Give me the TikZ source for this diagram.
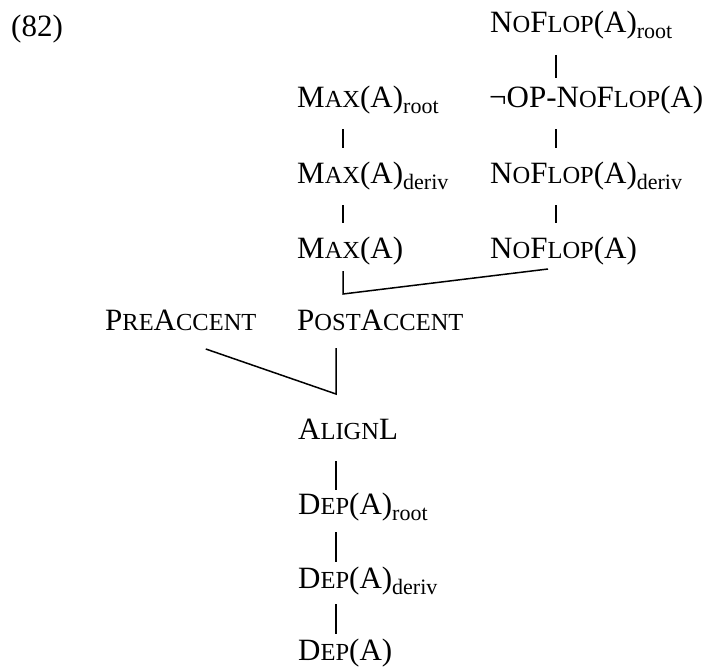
\documentclass[tikz,border=0pt]{standalone}
\usepackage{fontspec}
\setmainfont{Liberation Serif}
\usetikzlibrary{positioning}
% fake small caps and subscripts
\newcommand{\lc}[1]{{\fontsize{24.5}{29}\selectfont #1}}
\newcommand{\sub}[1]{\raisebox{-6pt}{\fontsize{22}{26}\selectfont #1}}
\newcommand{\link}[5]{%
% #1 = upper node, #2 = lower node, #3 = column, #4/#5 = gaps
\draw[con] ([yshift=-#4]#1.base -| #3) -- ([yshift=#5]#2.base -| #3);
}

\begin{document}
\begin{tikzpicture}[
    x=1pt, y=-1pt,
    con/.style={line width=1.5pt},
    every node/.style={anchor=base west, inner sep=0pt, font=\fontsize{31}{37}\selectfont}
]
\useasboundingbox (0,0) rectangle (711,666);
\coordinate (cl) at (343,0);
\coordinate (cr) at (556,0);
\coordinate (cd) at (336,0);

\node (num) at (11,37) {(82)};

\node (nfroot) at (490,33) {N\lc{O}F\lc{LOP}(A)\sub{root}};
\node (opnf) at (489,107) {¬OP-N\lc{O}F\lc{LOP}(A)};
\node (nfderiv) at (490,183) {N\lc{O}F\lc{LOP}(A)\sub{deriv}};
\node (nfa) at (490,258) {N\lc{O}F\lc{LOP}(A)};

\node (maxroot) at (297,107) {M\lc{AX}(A)\sub{root}};
\node (maxderiv) at (297,183) {M\lc{AX}(A)\sub{deriv}};
\node (maxa) at (297,258) {M\lc{AX}(A)};

\node (preacc) at (105,330) {P\lc{RE}A\lc{CCENT}};
\node (postacc) at (297,330) {P\lc{OST}A\lc{CCENT}};

\node (alignl) at (298,439) {A\lc{LIGN}L};
\node (deproot) at (298,514) {D\lc{EP}(A)\sub{root}};
\node (depderiv) at (298,588) {D\lc{EP}(A)\sub{deriv}};
\node (depa) at (298,660) {D\lc{EP}(A)};

\link{nfroot}{opnf}{cr}{22}{29}
\link{opnf}{nfderiv}{cr}{22}{35}
\link{nfderiv}{nfa}{cr}{22}{35}
\link{maxroot}{maxderiv}{cl}{22}{35}
\link{maxderiv}{maxa}{cl}{22}{35}

% joins
\coordinate (j1) at ([yshift=-36]maxa.base -| cl);
\draw[con] ([yshift=-13]maxa.base -| cl) -- (j1)
  -- ([xshift=-8,yshift=-11]nfa.base -| cr);
\coordinate (j2) at ([yshift=-64]postacc.base -| cd);
\draw[con] ([yshift=-18]postacc.base -| cd) -- (j2)
  -- ([xshift=25,yshift=-19]preacc.base);

\link{alignl}{deproot}{cd}{22}{24}
\link{deproot}{depderiv}{cd}{18}{26}
\link{depderiv}{depa}{cd}{16}{26}
\end{tikzpicture}
\end{document}
